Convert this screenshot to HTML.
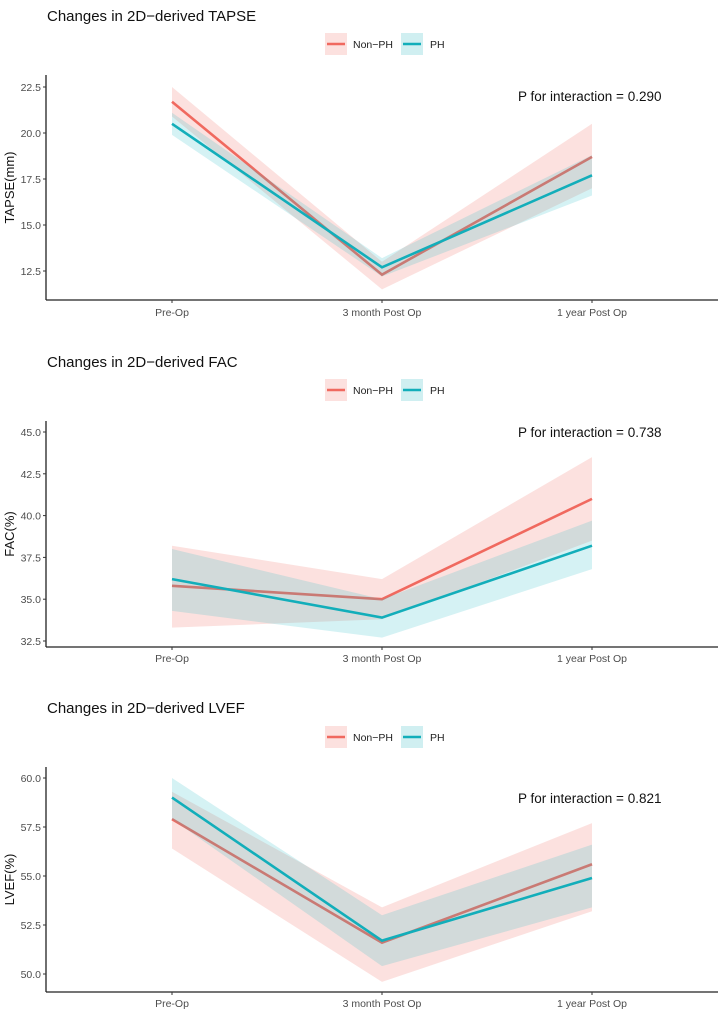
<!DOCTYPE html>
<html><head><meta charset="utf-8"><style>
html,body{margin:0;padding:0;background:#fff;}
svg{display:block;font-family:"Liberation Sans",sans-serif;}
</style></head><body>
<svg id="chart" width="720" height="1013" viewBox="0 0 720 1013" xmlns="http://www.w3.org/2000/svg"></svg>
<script>
const categories = ["Pre-Op", "3 month Post Op", "1 year Post Op"];
const titles = ["Changes in 2D\u2212derived TAPSE", "Changes in 2D\u2212derived FAC", "Changes in 2D\u2212derived LVEF"];
const yTitles = ["TAPSE(mm)", "FAC(%)", "LVEF(%)"];
const pTexts = ["P for interaction = 0.290", "P for interaction = 0.738", "P for interaction = 0.821"];
const tapseTicks = [12.5, 15.0, 17.5, 20.0, 22.5];
const facTicks = [32.5, 35.0, 37.5, 40.0, 42.5, 45.0];
const lvefTicks = [50.0, 52.5, 55.0, 57.5, 60.0];
const tapseNonPH = [21.7, 12.3, 18.7];
const tapseNonPHLo = [20.9, 11.5, 17.0];
const tapseNonPHHi = [22.5, 13.0, 20.5];
const tapsePH = [20.5, 12.7, 17.7];
const tapsePHLo = [19.9, 12.2, 16.6];
const tapsePHHi = [21.1, 13.2, 18.8];
const facNonPH = [35.8, 35.0, 41.0];
const facNonPHLo = [33.3, 33.8, 38.5];
const facNonPHHi = [38.2, 36.2, 43.5];
const facPH = [36.2, 33.9, 38.2];
const facPHLo = [34.3, 32.7, 36.8];
const facPHHi = [38.0, 35.0, 39.7];
const lvefNonPH = [57.9, 51.6, 55.6];
const lvefNonPHLo = [56.4, 49.6, 53.2];
const lvefNonPHHi = [59.3, 53.4, 57.7];
const lvefPH = [59.0, 51.7, 54.9];
const lvefPHLo = [57.9, 50.4, 53.4];
const lvefPHHi = [60.0, 53.0, 56.6];

const NS = "http://www.w3.org/2000/svg";
const svg = document.getElementById("chart");
function mk(tag, attrs, parent, text) {
  const e = document.createElementNS(NS, tag);
  for (const k in attrs) e.setAttribute(k, attrs[k]);
  if (text !== undefined) e.textContent = text;
  (parent || svg).appendChild(e);
  return e;
}
const RED = "#F0695F", BLUE = "#12AEBA";
const xPos = [172, 382, 592];
function xScale(i) { return xPos[i]; }

const panels = [
  {ticks: tapseTicks, lo: 12.5, hi: 22.5, yLo: 271, yHi: 87, top: 75, bottom: 300, titleY: 16, legY: 44, pY: 101, xlabY: 316,
   nonPH: tapseNonPH, nLo: tapseNonPHLo, nHi: tapseNonPHHi, ph: tapsePH, pLo: tapsePHLo, pHi: tapsePHHi, key: "tapse"},
  {ticks: facTicks, lo: 32.5, hi: 45.0, yLo: 641, yHi: 432, top: 421, bottom: 647, titleY: 362, legY: 390, pY: 437, xlabY: 662,
   nonPH: facNonPH, nLo: facNonPHLo, nHi: facNonPHHi, ph: facPH, pLo: facPHLo, pHi: facPHHi, key: "fac"},
  {ticks: lvefTicks, lo: 50.0, hi: 60.0, yLo: 974, yHi: 778, top: 767, bottom: 992, titleY: 708, legY: 737, pY: 803, xlabY: 1007,
   nonPH: lvefNonPH, nLo: lvefNonPHLo, nHi: lvefNonPHHi, ph: lvefPH, pLo: lvefPHLo, pHi: lvefPHHi, key: "lvef"}
];

panels.forEach((p, pi) => {
  const g = mk("g", {});
  
  
  const y = v => p.yLo - (v - p.lo) * (p.yLo - p.yHi) / (p.hi - p.lo);

  const t = mk("text", {x: 47, y: p.titleY + 5, "font-size": 15, fill: "#111"}, g, titles[pi]);
  
  

  const leg = mk("g", {}, g);
  
  
  const l1 = mk("g", {}, leg);
  
  
  mk("rect", {x: 325, y: p.legY - 11, width: 22, height: 22, fill: RED, "fill-opacity": 0.2}, l1);
  mk("line", {x1: 327, x2: 345, y1: p.legY, y2: p.legY, stroke: RED, "stroke-width": 2.5}, l1);
  mk("text", {x: 353, y: p.legY + 4, "font-size": 10.5, fill: "#222"}, l1, "Non\u2212PH");
  const l2 = mk("g", {}, leg);
  
  
  mk("rect", {x: 401, y: p.legY - 11, width: 22, height: 22, fill: BLUE, "fill-opacity": 0.2}, l2);
  mk("line", {x1: 403, x2: 421, y1: p.legY, y2: p.legY, stroke: BLUE, "stroke-width": 2.5}, l2);
  mk("text", {x: 430, y: p.legY + 4, "font-size": 10.5, fill: "#222"}, l2, "PH");

  function ribbon(lo, hi, color, op, name) {
    let d = "";
    for (let i = 0; i < categories.length; i++) d += (i ? "L" : "M") + xScale(i) + "," + y(hi[i]);
    for (let i = categories.length - 1; i >= 0; i--) d += "L" + xScale(i) + "," + y(lo[i]);
    const r = mk("path", {d: d + "Z", fill: color, "fill-opacity": op}, g);
    
    
  }
  function line(vals, color, name) {
    const pts = vals.map((v, i) => xScale(i) + "," + y(v)).join(" ");
    const l = mk("polyline", {points: pts, fill: "none", stroke: color, "stroke-width": 2.6}, g);
    
    
  }
  ribbon(p.nLo, p.nHi, RED, 0.2, p.key + '-ci-band-non-ph');
  line(p.nonPH, RED, p.key + '-line-non-ph');
  ribbon(p.pLo, p.pHi, "#2FBCC6", 0.2, p.key + '-ci-band-ph');
  line(p.ph, BLUE, p.key + '-line-ph');

  const ax = mk("g", {}, g);
  
  
  mk("line", {x1: 46, x2: 46, y1: p.top, y2: p.bottom, stroke: "#222", "stroke-width": 1.3}, ax);
  mk("line", {x1: 46, x2: 718, y1: p.bottom, y2: p.bottom, stroke: "#222", "stroke-width": 1.3}, ax);
  p.ticks.forEach(v => {
    mk("line", {x1: 43, x2: 46, y1: y(v), y2: y(v), stroke: "#333"}, ax);
    const tl = mk("text", {x: 41, y: y(v) + 4, "font-size": 10.5, fill: "#4d4d4d", "text-anchor": "end"}, ax, v.toFixed(1));
    
    
  });
  categories.forEach((c, i) => {
    mk("line", {x1: xScale(i), x2: xScale(i), y1: p.bottom, y2: p.bottom + 3, stroke: "#333"}, ax);
    const xl = mk("text", {x: xScale(i), y: p.xlabY, "font-size": 10.5, fill: "#4d4d4d", "text-anchor": "middle"}, ax, c);
    
    
  });
  const cy = (p.top + p.bottom) / 2;
  const yt = mk("text", {x: 0, y: 0, "font-size": 13, fill: "#111", "text-anchor": "middle", transform: "translate(14," + cy + ") rotate(-90)"}, ax, yTitles[pi]);
  
  

  const pt = mk("text", {x: 518, y: p.pY, "font-size": 13.5, fill: "#111"}, g, pTexts[pi]);
  
  
});
</script>
</body></html>
